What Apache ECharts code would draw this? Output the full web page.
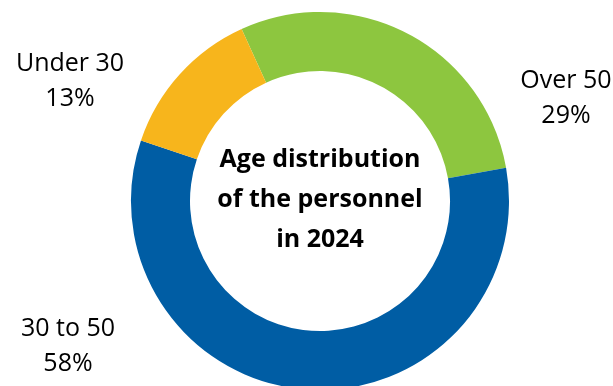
<!DOCTYPE html>
<html>
<head>
<meta charset="utf-8">
<script src="https://cdn.jsdelivr.net/npm/echarts@6/dist/echarts.min.js"></script>
<style>
  html, body { margin: 0; padding: 0; background: #fff; }
  #chart { width: 613px; height: 386px; }
</style>
</head>
<body>
<div id="chart"></div>
<script>
// Data (clockwise order starting at the green slice)
const categories = ["Over 50", "30 to 50", "Under 30"];
const shares = [29, 58, 13];
const sliceColors = ["#8DC63F", "#005DA4", "#F7B51C"];
const centerTitle = "Age distribution\nof the personnel\nin 2024";

const FONT = "'Open Sans', 'Noto Sans', sans-serif";
const labelPos = {
  0: { x: 566, y: 98 },
  1: { x: 68, y: 346 },
  2: { x: 70, y: 81 }
};

const chart = echarts.init(document.getElementById('chart'), null, { renderer: 'canvas' });
chart.setOption({
  animation: false,
  backgroundColor: '#ffffff',
  graphic: [{
    type: 'text',
    x: 320,
    y: 200,
    style: {
      text: centerTitle,
      fill: '#000',
      font: "bold 25px " + FONT,
      lineHeight: 40,
      align: 'center',
      verticalAlign: 'middle'
    }
  }],
  series: [{
    type: 'pie',
    center: [320, 201],
    radius: [130, 189],
    startAngle: 114.5,
    clockwise: true,
    avoidLabelOverlap: false,
    itemStyle: { borderWidth: 0 },
    label: {
      show: true,
      position: 'outside',
      formatter: p => p.name + "\n" + p.value + "%",
      fontFamily: FONT,
      fontSize: 25,
      lineHeight: 35,
      color: '#000',
      align: 'center'
    },
    labelLine: { show: false },
    labelLayout: function (params) {
      const pos = labelPos[params.dataIndex];
      return { x: pos.x, y: pos.y, align: 'center', verticalAlign: 'middle' };
    },
    emphasis: { disabled: true },
    data: categories.map((c, i) => ({
      name: c,
      value: shares[i],
      itemStyle: { color: sliceColors[i] }
    }))
  }]
});
</script>
</body>
</html>
